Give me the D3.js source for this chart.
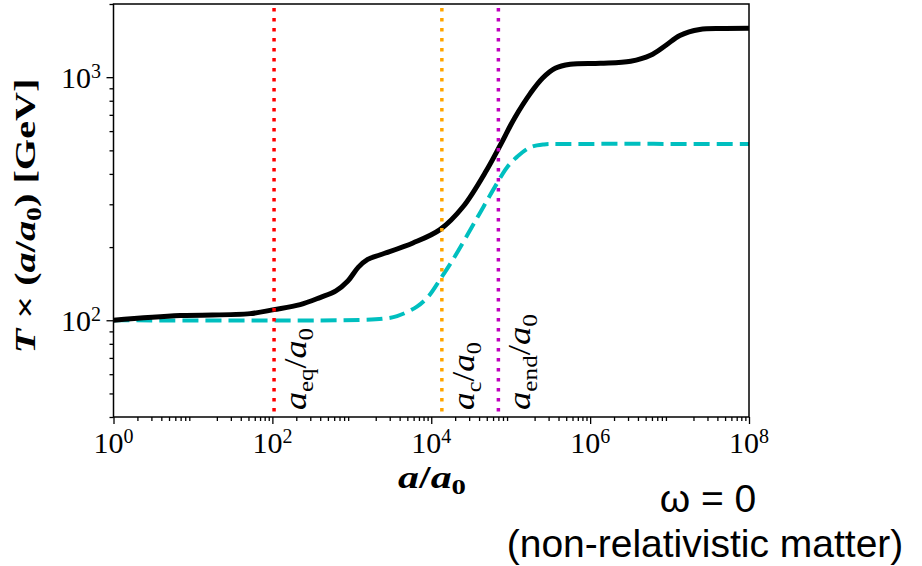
<!DOCTYPE html>
<head>
  <title>T x (a/a0) vs a/a0</title>
  <meta charset="utf-8">
  <script src="https://d3js.org/d3.v7.min.js"></script>
  <style>
    body { margin: 0; background: #fff; }
    .tick-label { font-family: "Liberation Serif", serif; font-size: 30px; }
    .math { font-family: "Liberation Serif", serif; }
    .note { font-family: "Liberation Sans", Arial, sans-serif; font-size: 39px; }
  </style>
</head>
<body>
  <div class="container"></div>
  <script type="text/javascript">
'use strict';
var width = 922;
var height = 566;

// a/a0 values (log10) and T x (a/a0) in GeV
var blackLogA = [0, 0.84, 1.72, 2.02, 2.35, 2.60, 2.80, 2.95, 3.08, 3.20, 3.36, 3.77, 4.11, 4.40, 4.70, 4.87, 5.05, 5.25, 5.40, 5.56, 5.75, 6.13, 6.51, 6.76, 6.95, 7.13, 7.38, 7.70, 8];
var blackT    = [100, 104.5, 106.5, 110.6, 116, 124, 132, 145, 165, 178, 186, 208, 236, 293, 416, 526, 680, 860, 990, 1088, 1130, 1140, 1162, 1230, 1350, 1485, 1572, 1585, 1588];

var cyanLogA = [0, 3.10, 3.40, 3.57, 3.82, 3.97, 4.11, 4.27, 4.49, 4.66, 4.83, 4.96, 5.08, 5.25, 5.42, 5.66, 8];
var cyanT    = [100, 100.3, 101.5, 104, 113.8, 126, 147, 177, 235, 294, 367, 428, 470, 515, 529, 531, 531];

// vertical markers
var markerA      = [105, 1.36e4, 7.0e4];
var markerColor  = ['#ff0000', '#ffa500', '#bf00bf'];
var markerSub    = ['eq', 'c', 'end'];
var markerLen    = [82, 68, 96];

var xMajor = [1, 1e2, 1e4, 1e6, 1e8];
var xMajorExp = ['0', '2', '4', '6', '8'];
var yMajor = [1e2, 1e3];
var yMajorExp = ['2', '3'];

var x = d3.scaleLog().domain([1, 1e8]).range([113.5, 749]);
var y = d3.scaleLog().domain([40, 2000]).range([417, 4]);

var svg = d3.select('.container')
  .append('svg')
  .attr('width', width)
  .attr('height', height);

svg.append('clipPath').attr('id', 'clip')
  .append('rect')
  .attr('x', x.range()[0]).attr('y', y.range()[1])
  .attr('width', x.range()[1] - x.range()[0])
  .attr('height', y.range()[0] - y.range()[1]);

// stretch a label horizontally (in its own frame) to a given length
function fit(t, base, len) {
  var w = t.node().getBBox().width;
  t.attr('transform', base + ' scale(' + (len / w) + ',1)');
}

// minor ticks
var xMinor = [];
for (var e = 0; e < 8; e++) {
  for (var m = 2; m < 10; m++) xMinor.push(m * Math.pow(10, e));
}
var yMinor = [];
[1, 2, 3].forEach(function (e) {
  for (var m = 2; m < 10; m++) {
    var v = m * Math.pow(10, e);
    if (v >= 40 && v <= 2000) yMinor.push(v);
  }
});

function styleAxis(g) {
  g.select('.domain').remove();
  g.selectAll('.tick line').attr('stroke', '#000').attr('stroke-width', 1.3);
}

svg.append('g')
  .attr('transform', 'translate(0,' + y.range()[0] + ')')
  .call(d3.axisBottom(x).tickValues(xMinor).tickSize(4).tickFormat(''))
  .call(styleAxis);
svg.append('g')
  .attr('transform', 'translate(0,' + y.range()[0] + ')')
  .call(d3.axisBottom(x).tickValues(xMajor).tickSize(7).tickFormat(''))
  .call(styleAxis);
svg.append('g')
  .attr('transform', 'translate(' + x.range()[0] + ',0)')
  .call(d3.axisLeft(y).tickValues(yMinor).tickSize(4).tickFormat(''))
  .call(styleAxis);
svg.append('g')
  .attr('transform', 'translate(' + x.range()[0] + ',0)')
  .call(d3.axisLeft(y).tickValues(yMajor).tickSize(7).tickFormat(''))
  .call(styleAxis);

// tick labels 10^n
xMajor.forEach(function (v, i) {
  var t = svg.append('text').attr('class', 'tick-label')
    .attr('x', x(v)).attr('y', 453).attr('text-anchor', 'middle');
  t.append('tspan').text('10');
  t.append('tspan').attr('font-size', 20).attr('dy', -10).text(xMajorExp[i]);
});
yMajor.forEach(function (v, i) {
  var t = svg.append('text').attr('class', 'tick-label')
    .attr('x', 101).attr('y', y(v) + 11).attr('text-anchor', 'end');
  t.append('tspan').text('10');
  t.append('tspan').attr('font-size', 20).attr('dy', -10).text(yMajorExp[i]);
});

// curves
var plot = svg.append('g').attr('clip-path', 'url(#clip)');

var line = d3.line()
  .x(function (d) { return x(Math.pow(10, d[0])); })
  .y(function (d) { return y(d[1]); })
  .curve(d3.curveCatmullRom.alpha(0.5));

plot.append('path')
  .datum(d3.zip(cyanLogA, cyanT))
  .attr('d', line)
  .attr('fill', 'none')
  .attr('stroke', '#00bfbf')
  .attr('stroke-width', 4)
  .attr('stroke-dasharray', '16,7');

plot.append('path')
  .datum(d3.zip(blackLogA, blackT))
  .attr('d', line)
  .attr('fill', 'none')
  .attr('stroke', '#000')
  .attr('stroke-width', 5);

plot.selectAll('line.marker')
  .data(markerA)
  .enter().append('line')
  .attr('class', 'marker')
  .attr('x1', function (d) { return x(d); })
  .attr('x2', function (d) { return x(d); })
  .attr('y1', y.range()[1] + 4)
  .attr('y2', y.range()[0])
  .attr('stroke', function (d, i) { return markerColor[i]; })
  .attr('stroke-width', 3.5)
  .attr('stroke-dasharray', '3.5,6.5');

// marker labels, rotated
markerA.forEach(function (v, i) {
  var base = 'translate(' + (x(v) + 32) + ',410) rotate(-90)';
  var t = svg.append('text').attr('class', 'math')
    .attr('font-size', 32)
    .attr('transform', base);
  t.append('tspan').attr('font-style', 'italic').text('a');
  t.append('tspan').attr('font-size', 22).attr('dy', 7).text(markerSub[i]);
  t.append('tspan').attr('dy', -7).text('/');
  t.append('tspan').attr('font-style', 'italic').text('a');
  t.append('tspan').attr('font-size', 22).attr('dy', 7).text('0');
  fit(t, base, markerLen[i]);
});

// frame
svg.append('rect')
  .attr('x', x.range()[0]).attr('y', y.range()[1])
  .attr('width', x.range()[1] - x.range()[0])
  .attr('height', y.range()[0] - y.range()[1])
  .attr('fill', 'none')
  .attr('stroke', '#000')
  .attr('stroke-width', 1.5);

// axis labels
var xlBase = 'translate(432,488)';
var xl = svg.append('text').attr('class', 'math')
  .attr('font-size', 32).attr('font-weight', 'bold')
  .attr('text-anchor', 'middle')
  .attr('transform', xlBase);
xl.append('tspan').attr('font-style', 'italic').text('a');
xl.append('tspan').text('/');
xl.append('tspan').attr('font-style', 'italic').text('a');
xl.append('tspan').attr('font-size', 22).attr('dy', 6).text('0');
fit(xl, xlBase, 68);

var ylBase = 'translate(35,216) rotate(-90)';
var yl = svg.append('text').attr('class', 'math')
  .attr('font-size', 29).attr('font-weight', 'bold')
  .attr('text-anchor', 'middle')
  .attr('transform', ylBase);
yl.append('tspan').attr('font-style', 'italic').text('T');
yl.append('tspan').text(' \u00d7 (');
yl.append('tspan').attr('font-style', 'italic').text('a');
yl.append('tspan').text('/');
yl.append('tspan').attr('font-style', 'italic').text('a');
yl.append('tspan').attr('font-size', 20).attr('dy', 6).text('0');
yl.append('tspan').attr('dy', -6).text(') [GeV]');
fit(yl, ylBase, 275);

// note
svg.append('text').attr('class', 'note')
  .attr('x', 708).attr('y', 512).attr('text-anchor', 'middle')
  .text('\u03c9 = 0');
svg.append('text').attr('class', 'note')
  .attr('x', 705).attr('y', 557).attr('text-anchor', 'middle')
  .text('(non-relativistic matter)');
  </script>
</body>
